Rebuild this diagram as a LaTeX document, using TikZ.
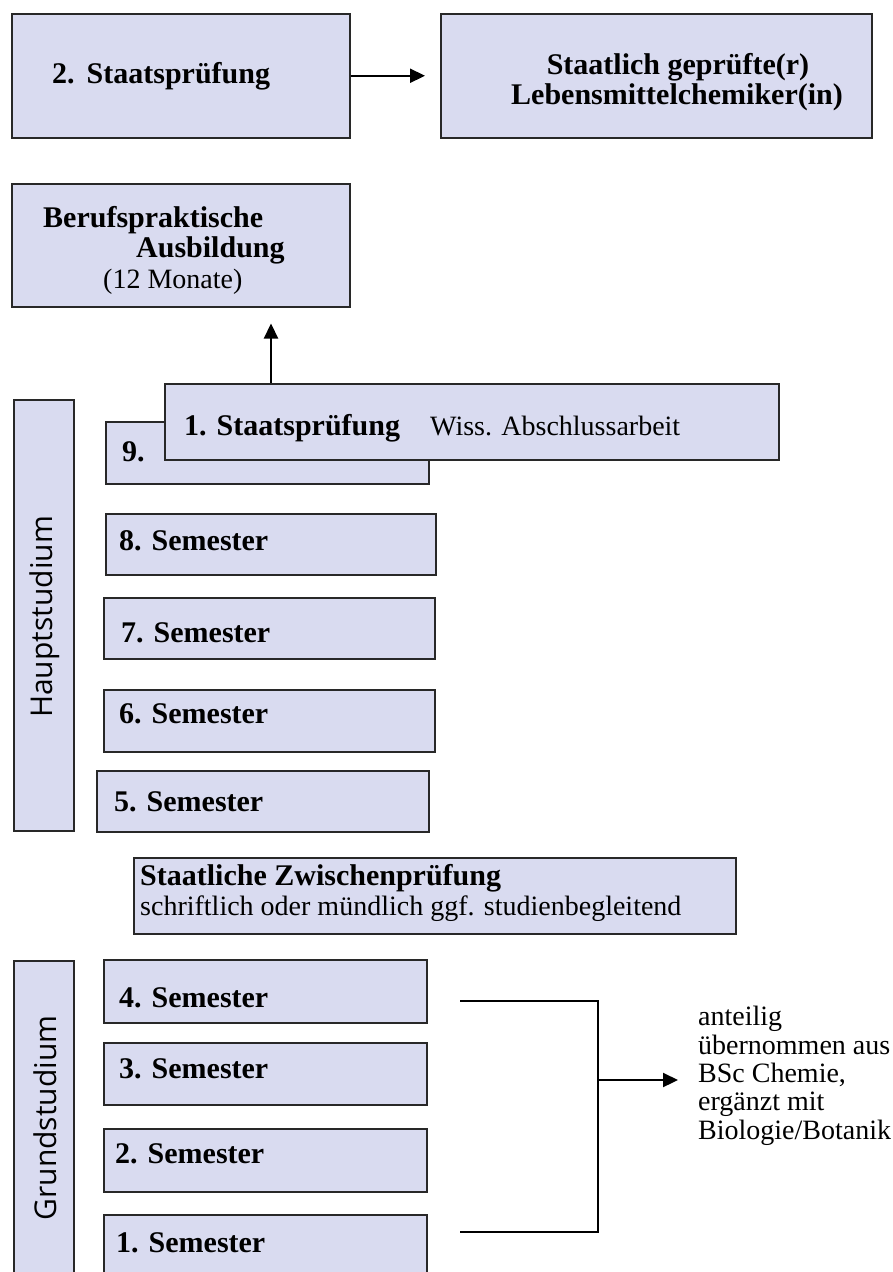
\documentclass[tikz,border=0pt]{standalone}
\usepackage{fontspec}
\setmainfont{Liberation Serif}
\newfontfamily\labelsans{Open Sans}
\usetikzlibrary{arrows.meta}
\definecolor{boxfill}{RGB}{217,219,240}
\definecolor{boxline}{RGB}{40,40,40}
\tikzset{
  box/.style={draw=boxline, fill=boxfill, line width=1.5pt, rectangle, inner sep=0pt, anchor=north west},
  bt/.style={font=\fontsize{30}{32}\selectfont\bfseries, inner sep=0pt, anchor=base west},
  rt/.style={font=\fontsize{28}{30}\selectfont, inner sep=0pt, anchor=base west},
  side/.style={font=\fontsize{30}{32}\selectfont\labelsans, inner sep=0pt, rotate=90},
  conn/.style={line width=2.2pt, -{Triangle[length=15pt,width=14pt]}},
  plainline/.style={line width=2.2pt},
}
\begin{document}
\begin{tikzpicture}[x=1pt,y=1pt]
\useasboundingbox (0,0) rectangle (893,-1272);
\clip (0,0) rectangle (893,-1272);
\fill[white] (0,0) rectangle (893,-1272);

% top row
\node[box, minimum width=338pt, minimum height=124pt] (A) at (11,-13) {};
\node[box, minimum width=431pt, minimum height=124pt] (B) at (440,-13) {};
\node[bt] (Atext) at (52,-83) {2.\hspace{12pt}Staatsprüfung};
\node[bt, anchor=base] (Btext1) at (678,-74) {Staatlich geprüfte(r)};
\node[bt, anchor=base] (Btext2) at (677,-104) {Lebensmittelchemiker(in)};
\draw[conn] (A.east) -- ([xshift=-15pt]B.west);

% Berufspraktische Ausbildung
\node[box, minimum width=338pt, minimum height=123pt] (beruf) at (11,-183) {};
\node[bt] (beruf1) at (43,-227) {Berufspraktische};
\node[bt] (beruf2) at (136,-257) {Ausbildung};
\node[rt] (beruf3) at (103,-288) {(12 Monate)};

% Hauptstudium
\node[box, minimum width=60pt, minimum height=431pt] (haupt) at (13,-399) {};
\node[side] (hauptt) at (45,-617) {Hauptstudium};

\node[box, minimum width=323pt, minimum height=62pt] (s9) at (105,-421) {};
\node[bt] (s9t) at (122,-461) {9.};
\node[box, minimum width=614pt, minimum height=76pt] (staats1) at (164,-383) {};
\node[bt] (staats1a) at (184,-435) {1. Staatsprüfung};
\node[rt] (staats1b) at (430,-435) {Wiss. Abschlussarbeit};
\coordinate (upfoot) at (271,-383);
\draw[conn] (upfoot) -- ([yshift=-16pt]beruf.south -| upfoot);

\node[box, minimum width=330pt, minimum height=61pt] (s8) at (105,-513) {};
\node[bt] (s8t) at (119,-550) {8. Semester};
\node[box, minimum width=331pt, minimum height=61pt] (s7) at (103,-597) {};
\node[bt] (s7t) at (121,-642) {7. Semester};
\node[box, minimum width=331pt, minimum height=62pt] (s6) at (103,-689) {};
\node[bt] (s6t) at (119,-723) {6. Semester};
\node[box, minimum width=332pt, minimum height=61pt] (s5) at (96,-770) {};
\node[bt] (s5t) at (114,-811) {5. Semester};

% Zwischenpruefung
\node[box, minimum width=602pt, minimum height=76pt] (zw) at (133,-857) {};
\node[bt] (zw1) at (140,-885) {Staatliche Zwischenprüfung};
\node[rt] (zw2) at (140,-915) {schriftlich oder mündlich ggf. studienbegleitend};

% Grundstudium
\node[box, minimum width=60pt, minimum height=330pt] (grund) at (13,-960) {};
\node[side] (grundt) at (45,-1118) {Grundstudium};

\node[box, minimum width=323pt, minimum height=63pt] (s4) at (103,-959) {};
\node[bt] (s4t) at (119,-1007) {4. Semester};
\node[box, minimum width=323pt, minimum height=62pt] (s3) at (103,-1042) {};
\node[bt] (s3t) at (119,-1078) {3. Semester};
\node[box, minimum width=323pt, minimum height=63pt] (s2) at (103,-1128) {};
\node[bt] (s2t) at (115,-1163) {2. Semester};
\node[box, minimum width=323pt, minimum height=62pt] (s1) at (103,-1214) {};
\node[bt] (s1t) at (116,-1252) {1. Semester};

% bracket
\coordinate (btop) at (460,-1001);
\coordinate (bbot) at (460,-1232);
\coordinate (bmid) at (598,-1080);
\coordinate (btip) at (678,-1080);
\draw[plainline, line join=miter] (btop) -- (btop -| bmid) -- (bbot -| bmid) -- (bbot);
\draw[conn] (bmid) -- (btip);

\node[rt] (n1) at (698,-1025) {anteilig};
\node[rt] (n2) at (698,-1054) {übernommen aus};
\node[rt] (n3) at (698,-1082) {BSc Chemie,};
\node[rt] (n4) at (698,-1110) {ergänzt mit};
\node[rt] (n5) at (698,-1139) {Biologie/Botanik};
\end{tikzpicture}
\end{document}
